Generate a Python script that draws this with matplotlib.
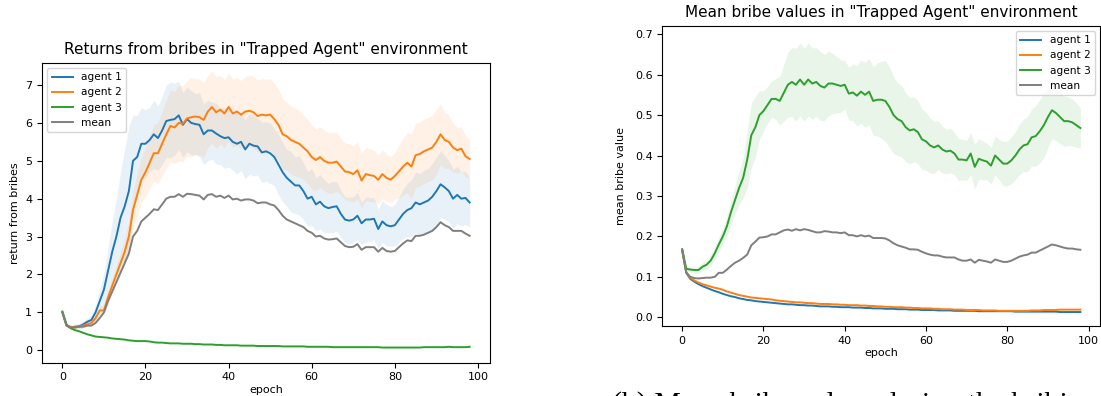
import numpy as np
import matplotlib.pyplot as plt

# epochs
epochs = np.arange(99)

# --- returns from bribes (left panel) ---
ret_agent1 = [1.00, 0.65, 0.60, 0.62, 0.63, 0.68, 0.75, 0.80, 1.00, 1.30,
              1.60, 2.10, 2.60, 3.00, 3.50, 3.80, 4.20, 5.00, 5.10, 5.45,
              5.45, 5.55, 5.70, 5.60, 5.80, 6.05, 6.08, 6.10, 6.20, 5.95,
              6.10, 6.00, 5.97, 5.95, 5.70, 5.80, 5.80, 5.72, 5.65, 5.60,
              5.62, 5.50, 5.45, 5.50, 5.30, 5.45, 5.40, 5.38, 5.22, 5.25,
              5.20, 5.10, 4.90, 4.70, 4.55, 4.45, 4.35, 4.35, 4.20, 4.00,
              4.05, 3.85, 3.92, 3.80, 3.75, 3.78, 3.80, 3.60, 3.45, 3.42,
              3.45, 3.55, 3.35, 3.45, 3.45, 3.47, 3.20, 3.40, 3.30, 3.27,
              3.30, 3.45, 3.60, 3.70, 3.75, 3.90, 3.85, 3.90, 3.95, 4.05,
              4.20, 4.38, 4.30, 4.20, 4.00, 4.10, 4.00, 4.02, 3.90]
ret_agent1_std = [0.03, 0.05, 0.05, 0.06, 0.07, 0.08, 0.10, 0.12, 0.20, 0.30,
                  0.45, 0.60, 0.80, 1.00, 1.20, 1.50, 1.70, 1.20, 1.10, 0.95,
                  0.90, 0.85, 0.90, 0.85, 0.90, 0.95, 1.00, 0.95, 0.90, 0.85,
                  0.85, 0.85, 0.80, 0.85, 0.80, 0.80, 0.75, 0.80, 0.75, 0.80,
                  0.78, 0.75, 0.80, 0.75, 0.78, 0.80, 0.80, 0.75, 0.80, 0.78,
                  0.80, 0.75, 0.80, 0.78, 0.75, 0.80, 0.75, 0.78, 0.75, 0.72,
                  0.75, 0.70, 0.72, 0.70, 0.65, 0.68, 0.65, 0.62, 0.60, 0.62,
                  0.60, 0.62, 0.55, 0.60, 0.58, 0.55, 0.52, 0.55, 0.55, 0.52,
                  0.55, 0.60, 0.65, 0.70, 0.75, 0.80, 0.82, 0.85, 0.85, 0.88,
                  0.90, 0.88, 0.85, 0.80, 0.78, 0.75, 0.72, 0.70, 0.65]

ret_agent2 = [1.00, 0.65, 0.62, 0.60, 0.62, 0.65, 0.68, 0.72, 0.85, 1.05,
              1.05, 1.40, 1.70, 2.00, 2.30, 2.60, 3.00, 3.70, 4.10, 4.50,
              4.70, 4.95, 5.20, 5.20, 5.45, 5.70, 5.92, 5.88, 6.00, 5.98,
              6.12, 6.15, 6.17, 6.15, 6.08, 6.30, 6.42, 6.28, 6.35, 6.25,
              6.42, 6.25, 6.30, 6.22, 6.30, 6.32, 6.28, 6.18, 6.22, 6.20,
              6.22, 6.10, 5.95, 5.70, 5.65, 5.55, 5.50, 5.45, 5.35, 5.25,
              5.10, 5.02, 5.10, 5.00, 4.95, 4.95, 4.98, 4.85, 4.72, 4.70,
              4.65, 4.75, 4.48, 4.65, 4.62, 4.60, 4.50, 4.65, 4.55, 4.50,
              4.60, 4.72, 4.85, 4.95, 4.85, 5.15, 5.18, 5.25, 5.30, 5.35,
              5.50, 5.70, 5.55, 5.50, 5.35, 5.28, 5.32, 5.12, 5.05]
ret_agent2_std = [0.03, 0.04, 0.04, 0.05, 0.05, 0.06, 0.07, 0.08, 0.10, 0.12,
                  0.15, 0.20, 0.22, 0.25, 0.30, 0.35, 0.40, 0.50, 0.55, 0.60,
                  0.65, 0.70, 0.75, 0.80, 0.85, 0.90, 0.95, 0.95, 1.00, 1.00,
                  1.00, 1.05, 1.00, 1.00, 1.00, 0.95, 0.95, 0.95, 0.90, 0.90,
                  0.90, 0.90, 0.90, 0.90, 0.92, 0.95, 0.95, 0.95, 0.95, 0.95,
                  0.95, 0.95, 0.95, 0.92, 0.90, 0.90, 0.90, 0.88, 0.85, 0.85,
                  0.85, 0.82, 0.80, 0.80, 0.80, 0.80, 0.78, 0.75, 0.75, 0.75,
                  0.75, 0.75, 0.72, 0.70, 0.70, 0.68, 0.65, 0.65, 0.62, 0.60,
                  0.62, 0.70, 0.75, 0.80, 0.85, 0.85, 0.85, 0.85, 0.85, 0.85,
                  0.85, 0.80, 0.75, 0.70, 0.65, 0.60, 0.58, 0.55, 0.50]

ret_agent3 = [1.02, 0.68, 0.58, 0.53, 0.50, 0.46, 0.42, 0.39, 0.36, 0.35,
              0.34, 0.33, 0.31, 0.30, 0.29, 0.28, 0.26, 0.25, 0.24, 0.24,
              0.24, 0.23, 0.21, 0.20, 0.20, 0.19, 0.18, 0.18, 0.18, 0.17,
              0.17, 0.17, 0.16, 0.16, 0.15, 0.15, 0.15, 0.14, 0.14, 0.13,
              0.13, 0.13, 0.13, 0.12, 0.12, 0.12, 0.12, 0.11, 0.11, 0.11,
              0.11, 0.11, 0.11, 0.10, 0.10, 0.10, 0.10, 0.10, 0.10, 0.09,
              0.09, 0.09, 0.09, 0.09, 0.09, 0.08, 0.08, 0.08, 0.08, 0.08,
              0.08, 0.08, 0.08, 0.08, 0.08, 0.08, 0.08, 0.07, 0.07, 0.07,
              0.07, 0.07, 0.07, 0.07, 0.07, 0.07, 0.07, 0.08, 0.08, 0.08,
              0.08, 0.08, 0.08, 0.09, 0.08, 0.08, 0.08, 0.08, 0.09]

ret_mean = [1.00, 0.65, 0.60, 0.60, 0.62, 0.62, 0.65, 0.65, 0.72, 0.85,
            1.00, 1.30, 1.55, 1.80, 2.05, 2.30, 2.55, 3.00, 3.15, 3.40,
            3.50, 3.60, 3.72, 3.70, 3.85, 4.00, 4.05, 4.05, 4.12, 4.05,
            4.13, 4.12, 4.10, 4.08, 3.98, 4.10, 4.12, 4.05, 4.08, 4.02,
            4.08, 3.98, 4.00, 3.95, 3.98, 3.98, 3.95, 3.88, 3.90, 3.90,
            3.85, 3.82, 3.70, 3.55, 3.45, 3.40, 3.35, 3.30, 3.25, 3.15,
            3.10, 3.00, 3.02, 2.95, 2.92, 2.93, 2.95, 2.85, 2.75, 2.72,
            2.73, 2.80, 2.65, 2.72, 2.72, 2.72, 2.60, 2.70, 2.62, 2.60,
            2.62, 2.72, 2.82, 2.90, 2.88, 3.02, 3.02, 3.05, 3.10, 3.15,
            3.25, 3.38, 3.30, 3.25, 3.15, 3.15, 3.15, 3.08, 3.02]

# --- mean bribe values (right panel) ---
bribe_agent1 = [0.165, 0.110, 0.095, 0.088, 0.082, 0.077, 0.073, 0.069, 0.065, 0.062,
                0.058, 0.055, 0.052, 0.050, 0.047, 0.045, 0.043, 0.042, 0.040, 0.039,
                0.038, 0.037, 0.036, 0.035, 0.034, 0.033, 0.032, 0.032, 0.031, 0.030,
                0.030, 0.029, 0.029, 0.028, 0.027, 0.027, 0.027, 0.026, 0.026, 0.025,
                0.025, 0.025, 0.024, 0.024, 0.024, 0.023, 0.023, 0.022, 0.022, 0.022,
                0.021, 0.021, 0.021, 0.020, 0.020, 0.020, 0.019, 0.019, 0.019, 0.018,
                0.018, 0.018, 0.018, 0.017, 0.017, 0.017, 0.017, 0.016, 0.016, 0.016,
                0.016, 0.016, 0.016, 0.015, 0.015, 0.015, 0.015, 0.015, 0.015, 0.015,
                0.015, 0.015, 0.014, 0.014, 0.014, 0.014, 0.014, 0.014, 0.014, 0.014,
                0.014, 0.014, 0.014, 0.013, 0.013, 0.013, 0.013, 0.013, 0.013]

bribe_agent2 = [0.165, 0.112, 0.098, 0.091, 0.086, 0.082, 0.079, 0.076, 0.073, 0.071,
                0.068, 0.064, 0.061, 0.058, 0.055, 0.053, 0.051, 0.049, 0.048, 0.047,
                0.046, 0.045, 0.044, 0.042, 0.041, 0.040, 0.039, 0.038, 0.037, 0.037,
                0.036, 0.035, 0.035, 0.034, 0.033, 0.033, 0.033, 0.032, 0.032, 0.031,
                0.031, 0.030, 0.030, 0.030, 0.029, 0.029, 0.028, 0.028, 0.027, 0.027,
                0.026, 0.026, 0.025, 0.025, 0.025, 0.024, 0.024, 0.023, 0.023, 0.022,
                0.022, 0.022, 0.021, 0.021, 0.020, 0.020, 0.020, 0.019, 0.019, 0.019,
                0.018, 0.018, 0.018, 0.018, 0.017, 0.017, 0.017, 0.017, 0.016, 0.016,
                0.016, 0.016, 0.016, 0.016, 0.016, 0.016, 0.017, 0.017, 0.017, 0.018,
                0.018, 0.018, 0.018, 0.019, 0.019, 0.019, 0.019, 0.019, 0.019]

bribe_agent3 = [0.168, 0.120, 0.118, 0.117, 0.117, 0.125, 0.130, 0.140, 0.158, 0.180,
                0.200, 0.225, 0.260, 0.290, 0.320, 0.345, 0.390, 0.450, 0.470, 0.500,
                0.510, 0.525, 0.540, 0.540, 0.535, 0.555, 0.575, 0.582, 0.575, 0.588,
                0.575, 0.588, 0.578, 0.582, 0.572, 0.568, 0.578, 0.578, 0.575, 0.572,
                0.575, 0.553, 0.556, 0.548, 0.558, 0.550, 0.558, 0.535, 0.538, 0.538,
                0.535, 0.520, 0.500, 0.490, 0.485, 0.470, 0.462, 0.465, 0.458, 0.440,
                0.435, 0.425, 0.420, 0.425, 0.415, 0.410, 0.412, 0.405, 0.390, 0.390,
                0.388, 0.405, 0.372, 0.392, 0.388, 0.385, 0.375, 0.400, 0.390, 0.380,
                0.380, 0.388, 0.400, 0.415, 0.425, 0.428, 0.445, 0.448, 0.460, 0.475,
                0.495, 0.512, 0.505, 0.495, 0.485, 0.485, 0.482, 0.475, 0.468]
bribe_agent3_std = [0.005, 0.006, 0.006, 0.007, 0.008, 0.010, 0.012, 0.014, 0.016, 0.018,
                    0.020, 0.025, 0.030, 0.035, 0.040, 0.050, 0.070, 0.080, 0.075, 0.060,
                    0.050, 0.045, 0.045, 0.050, 0.060, 0.070, 0.080, 0.085, 0.090, 0.090,
                    0.090, 0.090, 0.088, 0.085, 0.085, 0.082, 0.080, 0.075, 0.070, 0.065,
                    0.060, 0.065, 0.070, 0.075, 0.078, 0.080, 0.082, 0.085, 0.090, 0.095,
                    0.100, 0.100, 0.095, 0.090, 0.088, 0.085, 0.082, 0.080, 0.078, 0.075,
                    0.072, 0.068, 0.065, 0.060, 0.058, 0.055, 0.055, 0.052, 0.052, 0.050,
                    0.050, 0.052, 0.055, 0.050, 0.048, 0.045, 0.045, 0.048, 0.050, 0.055,
                    0.055, 0.058, 0.060, 0.062, 0.065, 0.068, 0.070, 0.075, 0.078, 0.080,
                    0.075, 0.070, 0.068, 0.065, 0.062, 0.060, 0.058, 0.055, 0.050]

bribe_mean = [0.168, 0.110, 0.100, 0.097, 0.096, 0.097, 0.098, 0.098, 0.100, 0.110,
              0.110, 0.118, 0.127, 0.135, 0.140, 0.147, 0.155, 0.178, 0.187, 0.197,
              0.198, 0.200, 0.205, 0.205, 0.210, 0.215, 0.217, 0.214, 0.218, 0.215,
              0.218, 0.216, 0.213, 0.210, 0.210, 0.213, 0.212, 0.210, 0.210, 0.208,
              0.210, 0.203, 0.203, 0.200, 0.203, 0.200, 0.202, 0.196, 0.196, 0.196,
              0.195, 0.190, 0.183, 0.178, 0.175, 0.172, 0.168, 0.168, 0.167, 0.162,
              0.158, 0.155, 0.153, 0.153, 0.150, 0.148, 0.148, 0.148, 0.143, 0.140,
              0.140, 0.143, 0.135, 0.142, 0.140, 0.138, 0.135, 0.143, 0.140, 0.137,
              0.137, 0.140, 0.145, 0.150, 0.153, 0.155, 0.160, 0.160, 0.165, 0.170,
              0.175, 0.180, 0.178, 0.175, 0.172, 0.170, 0.170, 0.168, 0.167]

labels = ["agent 1", "agent 2", "agent 3", "mean"]
colors = ["tab:blue", "tab:orange", "tab:green", "tab:gray"]

fig = plt.figure(figsize=(11.01, 3.96), dpi=100)
W, H = 1101, 396
ax1 = fig.add_axes([42 / W, 1 - 362.7 / H, 448 / W, 300 / H])
ax2 = fig.add_axes([662.3 / W, 1 - 326 / H, 438 / W, 300.3 / H])

fs = 8
lw = 1.4

# left panel
ret_lines = [ret_agent1, ret_agent2, ret_agent3, ret_mean]
ret_std = [ret_agent1_std, ret_agent2_std, None, None]
for y, s, c, lab in zip(ret_lines, ret_std, colors, labels):
    y = np.array(y)
    ax1.plot(epochs, y, color=c, label=lab, lw=lw)
    if s is not None:
        s = np.array(s)
        ax1.fill_between(epochs, y - s, y + s, color=c, alpha=0.1, lw=0)
ax1.set_ylim(-0.33, 7.59)
ax1.set_title('Returns from bribes in "Trapped Agent" environment', fontsize=11)
ax1.set_xlabel("epoch", fontsize=fs, labelpad=2)
ax1.set_ylabel("return from bribes", fontsize=fs)
ax1.tick_params(labelsize=fs)
ax1.legend(loc="upper left", fontsize=7.6)

# right panel
bribe_lines = [bribe_agent1, bribe_agent2, bribe_agent3, bribe_mean]
bribe_std = [None, None, bribe_agent3_std, None]
for y, s, c, lab in zip(bribe_lines, bribe_std, colors, labels):
    y = np.array(y)
    ax2.plot(epochs, y, color=c, label=lab, lw=lw)
    if s is not None:
        s = np.array(s)
        ax2.fill_between(epochs, y - s, y + s, color=c, alpha=0.1, lw=0)
ax2.set_ylim(-0.0215, 0.721)
ax2.set_title('Mean bribe values in "Trapped Agent" environment', fontsize=11)
ax2.set_xlabel("epoch", fontsize=fs, labelpad=2)
ax2.set_ylabel("mean bribe value", fontsize=fs, labelpad=6)
ax2.tick_params(labelsize=fs)
ax2.legend(loc="upper right", fontsize=7.6)

# caption of the source figure, only its top edge shows at the bottom
fig.text(612 / W, 1 - 412 / H, "(b) Mean bribe values during the bribing",
         va="baseline", ha="left", fontsize=21.5, family="Liberation Serif")

fig.savefig("out.png", dpi=100)
